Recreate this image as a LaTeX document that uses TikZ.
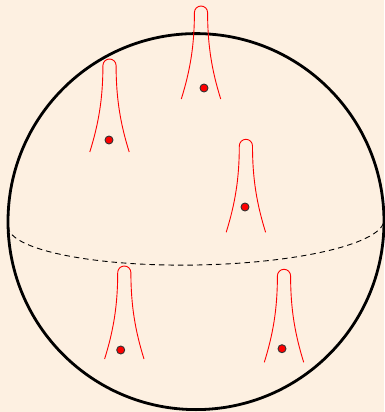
\documentclass[tikz,border=0pt]{standalone}
\usepackage{xcolor}
\usepackage{tikz}
\usetikzlibrary{calc}
\definecolor{paper}{RGB}{253,240,225}
\tikzset{
  horn/.style={red,line width=0.9pt},
  spot/.style={fill=red,draw=black!80,line width=0.9pt},
  equator/.style={line width=0.9pt,dash pattern=on 5.5pt off 4pt},
}
\begin{document}
\begin{tikzpicture}[x=1pt,y=-1pt]
  \fill[paper] (0,0) rectangle (384,412);
  \useasboundingbox (0,0) rectangle (384,412);
  \draw[equator,shift={(196,223)},rotate=1]
    (-188pt,0pt) arc[start angle=180,end angle=360,x radius=188pt,y radius=42pt];
  \draw[line width=2.8pt] (196,221.6) circle (188pt);
  \foreach \cx/\cy/\sx/\sy in {201/6/204/88, 109.5/59/109/140, 245.9/139.3/245/207,
                               124.3/266/120.7/350, 284/269.3/282/348.7}{
    \begin{scope}[shift={(\cx,\cy)}]
      \draw[horn] (-19.7,93) .. controls (-11,65) and (-6.6,40) .. (-6.6,6.6)
        arc[start angle=180,end angle=0,radius=6.6pt]
        .. controls (6.6,40) and (11,65) .. (19.7,93);
    \end{scope}
    \draw[spot] (\sx,\sy) circle (4pt);
  }
\end{tikzpicture}
\end{document}
